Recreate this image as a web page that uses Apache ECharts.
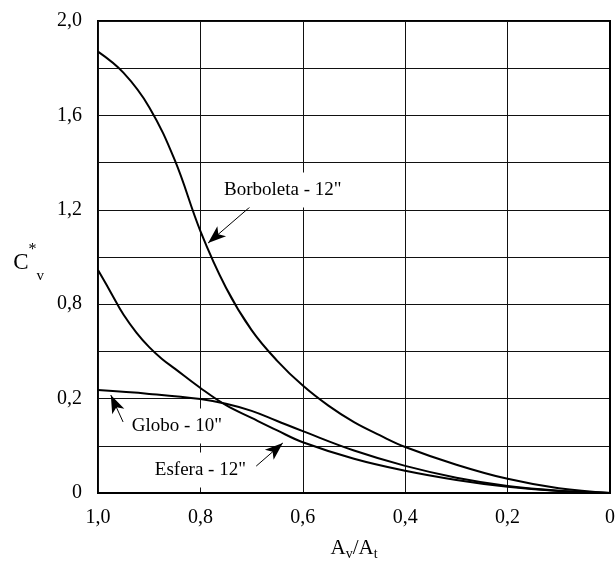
<!DOCTYPE html>
<html>
<head>
<meta charset="utf-8">
<script src="https://cdn.jsdelivr.net/npm/echarts@6/dist/echarts.min.js"></script>
<style>
html,body{margin:0;padding:0;background:#fff;}
#chart{width:616px;height:561px;}
</style>
</head>
<body>
<div id="chart"></div>
<script>
// Tick labels (as printed in the original figure)
var xTicks = [1.0, 0.8, 0.6, 0.4, 0.2, 0];
var xTickLabels = ['1,0', '0,8', '0,6', '0,4', '0,2', '0'];
var yTicks = [2.0, 1.6, 1.2, 0.8, 0.4, 0];
var yTickLabels = ['2,0', '1,6', '1,2', '0,8', '0,2', '0'];

// Series: Borboleta - 12"
var borboletaX = [1.0, 0.95, 0.9, 0.85, 0.8, 0.75, 0.7, 0.65, 0.6, 0.55, 0.5, 0.45, 0.4, 0.3, 0.2, 0.1, 0];
var borboletaY = [1.87, 1.78, 1.635, 1.41, 1.11, 0.87, 0.69, 0.56, 0.455, 0.37, 0.30, 0.245, 0.195, 0.12, 0.06, 0.02, 0];

// Series: Esfera - 12"
var esferaX = [1.0, 0.975, 0.95, 0.925, 0.9, 0.875, 0.85, 0.8, 0.75, 0.7, 0.65, 0.6, 0.5, 0.4, 0.3, 0.2, 0.1, 0];
var esferaY = [0.945, 0.85, 0.755, 0.68, 0.618, 0.568, 0.527, 0.445, 0.372, 0.318, 0.265, 0.215, 0.145, 0.094, 0.055, 0.026, 0.008, 0];

// Series: Globo - 10"
var globoX = [1.0, 0.9, 0.8, 0.75, 0.7, 0.65, 0.6, 0.5, 0.4, 0.3, 0.2, 0.1, 0];
var globoY = [0.436, 0.42, 0.398, 0.378, 0.348, 0.305, 0.262, 0.18, 0.115, 0.065, 0.03, 0.01, 0];

// Annotation labels in data coordinates
var annotationTexts = ['Borboleta - 12"', 'Globo - 10"', 'Esfera - 12"'];
var annotationX = [0.639, 0.846, 0.80];
var annotationY = [1.284, 0.284, 0.097];
// Arrows: start -> tip in data coordinates
var arrowFromX = [0.699, 0.951, 0.691];
var arrowFromY = [1.22, 0.301, 0.114];
var arrowToX = [0.785, 0.975, 0.639];
var arrowToY = [1.059, 0.415, 0.212];

var FONT = '"Liberation Serif", "Times New Roman", serif';

function pairs(xs, ys) { return xs.map(function (x, i) { return [x, ys[i]]; }); }
function tickFmt(ticks, labels) {
  return function (v) {
    for (var i = 0; i < ticks.length; i++) if (Math.abs(v - ticks[i]) < 1e-6) return labels[i];
    return '';
  };
}

var chart = echarts.init(document.getElementById('chart'), null, {renderer: 'canvas'});

var lineStyle = {color: '#000', width: 2};
var option = {
  backgroundColor: '#fff',
  animation: false,
  grid: {
    left: 98, right: 6, top: 21, bottom: 68, containLabel: false, outerBoundsMode: 'none',
    show: true, borderColor: '#000', borderWidth: 2, backgroundColor: 'transparent'
  },
  xAxis: {
    type: 'value', min: 0, max: 1, interval: 0.2, inverse: true,
    name: 'A{sub|v}/A{sub|t}', nameLocation: 'middle', nameGap: 42,
    nameTextStyle: {
      fontFamily: FONT, fontSize: 21, color: '#000',
      rich: {sub: {fontFamily: FONT, fontSize: 14, color: '#000', verticalAlign: 'bottom', lineHeight: 26}}
    },
    axisLine: {show: true, lineStyle: {color: '#000', width: 2}},
    axisTick: {show: false},
    splitLine: {show: true, lineStyle: {color: '#111', width: 1}},
    axisLabel: {formatter: tickFmt(xTicks, xTickLabels), fontFamily: FONT, fontSize: 20, color: '#000', margin: 15}
  },
  yAxis: {
    type: 'value', min: 0, max: 2, interval: 0.2,
    name: '{c|C}{sup|*}{sub|v}', nameLocation: 'middle', nameGap: 54, nameRotate: 0,
    nameTextStyle: {
      fontFamily: FONT, color: '#000', padding: [12, 0, 0, 0],
      rich: {
        c: {fontFamily: FONT, fontSize: 23, color: '#000', lineHeight: 42},
        sup: {fontFamily: FONT, fontSize: 16, color: '#000', lineHeight: 42, verticalAlign: 'top'},
        sub: {fontFamily: FONT, fontSize: 15, color: '#000', lineHeight: 42, verticalAlign: 'bottom'}
      }
    },
    axisLine: {show: true, lineStyle: {color: '#000', width: 2}},
    axisTick: {show: false},
    splitLine: {show: true, lineStyle: {color: '#111', width: 1}},
    axisLabel: {formatter: tickFmt(yTicks, yTickLabels), fontFamily: FONT, fontSize: 20, color: '#000', margin: 16}
  },
  series: [
    {name: 'Borboleta - 12"', type: 'line', data: pairs(borboletaX, borboletaY), smooth: 0.4, showSymbol: false, lineStyle: lineStyle, z: 3},
    {name: 'Esfera - 12"', type: 'line', data: pairs(esferaX, esferaY), smooth: 0.4, showSymbol: false, lineStyle: lineStyle, z: 3},
    {name: 'Globo - 10"', type: 'line', data: pairs(globoX, globoY), smooth: 0.4, showSymbol: false, lineStyle: lineStyle, z: 3},
    {
      name: 'annotations', type: 'line', data: [], z: 5,
      markPoint: {
        symbol: 'rect', symbolSize: 0, silent: true,
        label: {
          show: true, position: 'inside', formatter: '{b}', fontFamily: FONT, fontSize: 19, color: '#000',
          backgroundColor: '#fff', padding: [8, 6, 8, 6]
        },
        data: annotationTexts.map(function (t, i) { return {name: t, coord: [annotationX[i], annotationY[i]]}; })
      },
      markLine: {
        silent: true, symbol: ['none', 'arrow'], symbolSize: [10, 18],
        lineStyle: {color: '#000', width: 1, type: 'solid'},
        label: {show: false},
        data: arrowFromX.map(function (x, i) {
          return [{coord: [x, arrowFromY[i]]}, {coord: [arrowToX[i], arrowToY[i]]}];
        })
      }
    }
  ]
};
chart.setOption(option);
</script>
</body>
</html>
